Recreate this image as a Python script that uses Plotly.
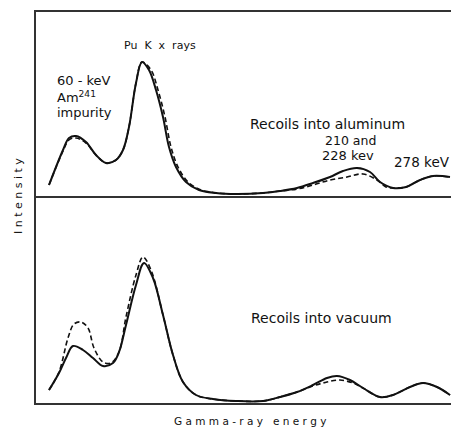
import plotly.graph_objects as go
from plotly.subplots import make_subplots

# Energy channel (arbitrary units) and intensities (arbitrary units)
al_solid_x = [13, 27, 33, 40, 50, 60, 70, 80, 87, 93, 100, 106, 113, 120, 127, 133, 140, 150, 163, 180, 200,
              227, 244, 261, 277, 294, 307, 321, 334, 344, 357, 370, 384, 397, 414]
al_solid_y = [11, 46, 58, 60, 54, 41, 33, 36, 46, 69, 113, 134, 126, 106, 79, 49, 29, 14, 6, 3, 2,
              3, 5, 8, 13, 19, 25, 28, 24, 14, 8, 9, 16, 20, 19]
al_dash_x = [13, 27, 33, 40, 50, 60, 70, 80, 87, 93, 100, 106, 115, 122, 129, 135, 142, 152, 165, 182, 200,
             227, 244, 261, 277, 294, 311, 327, 341, 350, 357, 370, 384, 397, 414]
al_dash_y = [11, 45, 56, 58, 53, 41, 33, 36, 46, 69, 113, 134, 126, 106, 79, 49, 29, 14, 6, 3, 2,
             3, 5, 7, 11, 16, 19, 22, 16, 9, 8, 9, 16, 20, 19]

vac_solid_x = [13, 23, 30, 37, 47, 57, 67, 77, 83, 90, 100, 108, 117, 127, 137, 147, 160, 177, 200,
               227, 244, 261, 277, 291, 301, 314, 327, 344, 357, 374, 387, 401, 414]
vac_solid_y = [13, 30, 45, 57, 53, 45, 37, 40, 51, 78, 118, 140, 125, 88, 48, 21, 8, 4, 2,
               2, 6, 11, 18, 25, 27, 23, 15, 6, 8, 16, 20, 16, 8]
vac_dash_x = [13, 23, 32, 38, 45, 52, 58, 67, 75, 83, 90, 100, 107, 115, 127, 137, 147, 160, 177, 200,
              227, 244, 261, 277, 291, 304, 317, 327, 344, 357, 374, 387, 401, 414]
vac_dash_y = [13, 31, 65, 79, 81, 75, 55, 41, 40, 51, 86, 128, 146, 133, 88, 48, 21, 8, 4, 2,
              2, 6, 11, 17, 21, 23, 20, 15, 6, 8, 16, 20, 16, 8]

fig = make_subplots(rows=2, cols=1, shared_xaxes=False, vertical_spacing=0,
                    row_heights=[184, 207])

line_solid = dict(color="#111111", width=2, shape="spline", smoothing=1.0)
line_dash = dict(color="#111111", width=1.6, dash="5px,3px", shape="spline", smoothing=1.0)

fig.add_trace(go.Scatter(x=al_dash_x, y=al_dash_y, mode="lines", line=line_dash), row=1, col=1)
fig.add_trace(go.Scatter(x=al_solid_x, y=al_solid_y, mode="lines", line=line_solid), row=1, col=1)
fig.add_trace(go.Scatter(x=vac_dash_x, y=vac_dash_y, mode="lines", line=line_dash), row=2, col=1)
fig.add_trace(go.Scatter(x=vac_solid_x, y=vac_solid_y, mode="lines", line=line_solid), row=2, col=1)

axis_line = dict(showline=True, linecolor="#333333", linewidth=1.5, showgrid=False,
                 zeroline=False, showticklabels=False, ticks="")
fig.update_xaxes(range=[0, 415], **axis_line)
fig.update_xaxes(mirror=True, row=1, col=1)
fig.update_yaxes(**axis_line)
fig.update_yaxes(range=[0, 184], row=1, col=1)
fig.update_yaxes(range=[0, 207], row=2, col=1)

font = dict(family="DejaVu Sans, sans-serif", size=12, color="#111111")

def ann(text, x, y, xref="x", yref="y", xanchor="left", angle=0, size=12):
    fig.add_annotation(text=text, x=x, y=y, xref=xref, yref=yref, showarrow=False,
                       xanchor=xanchor, yanchor="middle", textangle=angle,
                       font=dict(font, size=size))

ann("Pu  K  x  rays", 124, 151, xanchor="center", size=11)
ann("60 - keV", 19, 116, size=13)
ann("Am<sup>241</sup>", 19, 99, size=13)
ann("impurity", 19, 84, size=13)
ann("Recoils into aluminum", 212, 72, size=14)
ann("210 and", 287, 56, size=12.5)
ann("228 kev", 284, 41, size=13)
ann("278 keV", 356, 34, size=13.5)
ann("Recoils into vacuum", 213, 85, xref="x2", yref="y2", size=14)
ann("I n t e n s i t y", -18 / 415, 1 - (196 - 12) / 391, xref="paper", yref="paper",
    xanchor="center", angle=-90, size=11)
ann("G a m m a - r a y   e n e r g y", (250 - 36) / 415, -18 / 391, xref="paper", yref="paper",
    xanchor="center", size=10.5)

fig.update_layout(width=451, height=429, margin=dict(l=36, r=0, t=12, b=26),
                  paper_bgcolor="white", plot_bgcolor="white", showlegend=False)

fig.write_html("out.html", config={"displayModeBar": False},
               post_script="document.body.style.margin='0';document.body.style.overflow='hidden';")
